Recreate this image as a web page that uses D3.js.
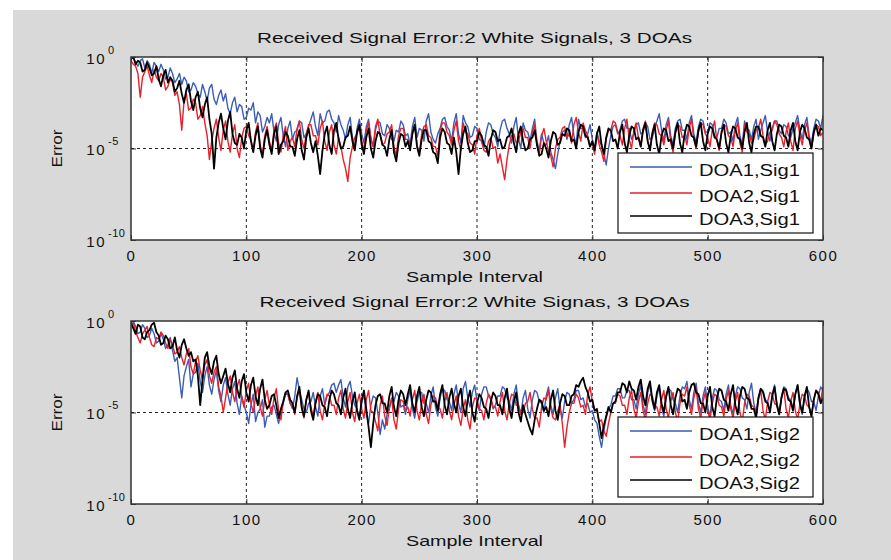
<!DOCTYPE html>
<html>
<head>
<meta charset="utf-8">
<script src="https://cdn.jsdelivr.net/npm/d3@7"></script>
<style>
  body { margin: 0; background: #fff; }
  svg { display: block; font-family: "Liberation Sans", Arial, sans-serif; }
</style>
</head>
<body>
<svg id="chart" width="891" height="560"></svg>
<script>
// x: every 2nd sample, y: log10(error)
const sampleStep = 2;
const xTicks = [0, 100, 200, 300, 400, 500, 600];
const yTickExps = [-10, -5, 0];
const titles = ["Received Signal Error:2 White Signals, 3 DOAs", "Received Signal Error:2 White Signas, 3 DOAs"];
const labelsTop = ["DOA1,Sig1", "DOA2,Sig1", "DOA3,Sig1"];
const labelsBottom = ["DOA1,Sig2", "DOA2,Sig2", "DOA3,Sig2"];

const doa1Sig1 = [
  -0.1,0.0,-0.3,-0.5,-0.2,-0.1,-0.6,-0.2,-0.4,-0.9,-0.3,-0.5,-0.8,-0.4,-0.7,-1.2,-1.1,-0.6,-0.9,-1.4,
  -1.2,-0.9,-1.5,-1.1,-1.3,-1.9,-1.8,-1.4,-1.6,-2.0,-2.2,-1.5,-1.9,-2.4,-1.7,-1.5,-2.3,-2.6,-2.1,-1.8,
  -2.4,-2.0,-2.8,-3.1,-2.5,-2.2,-3.0,-2.6,-2.7,-3.4,-3.3,-2.8,-2.9,-2.5,-3.6,-3.0,-3.2,-4.1,-3.8,-3.3,
  -3.6,-3.1,-4.1,-4.6,-3.7,-3.3,-4.3,-4.9,-3.9,-3.5,-4.5,-4.1,-4.0,-3.5,-3.6,-4.4,-4.2,-3.8,-3.4,-3.0,
  -3.8,-4.3,-3.1,-3.6,-3.5,-3.0,-2.9,-3.4,-3.6,-4.1,-3.2,-3.7,-4.0,-4.5,-3.7,-3.3,-4.4,-4.9,-3.9,-3.4,
  -4.2,-4.7,-3.8,-3.4,-4.5,-4.9,-4.0,-3.5,-3.6,-4.2,-4.3,-3.7,-3.9,-4.5,-4.6,-4.0,-4.1,-3.5,-3.7,-4.3,
  -4.2,-4.8,-3.8,-3.3,-4.4,-3.9,-4.0,-4.6,-3.5,-3.1,-4.1,-4.5,-4.7,-4.2,-3.9,-3.4,-3.3,-3.8,-4.0,-4.6,
  -3.6,-3.1,-4.2,-4.7,-3.2,-3.6,-3.8,-4.4,-4.3,-3.8,-3.9,-4.5,-4.6,-5.0,-4.1,-3.6,-3.7,-4.2,-4.4,-4.9,
  -4.0,-3.5,-3.4,-3.9,-4.2,-4.7,-3.8,-3.3,-4.5,-5.0,-3.6,-4.0,-4.1,-4.6,-3.9,-3.4,-4.6,-5.1,-4.2,-4.7,
  -4.8,-4.3,-5.2,-5.6,-6.1,-5.3,-4.6,-4.1,-4.0,-4.5,-3.7,-3.3,-4.3,-4.8,-3.4,-3.9,-3.9,-4.4,-4.2,-3.7,
  -4.5,-5.0,-4.1,-4.6,-4.8,-5.3,-5.9,-5.0,-4.3,-3.8,-3.7,-4.2,-4.0,-3.5,-3.4,-3.9,-3.9,-4.5,-4.2,-3.7,
  -3.6,-4.2,-4.1,-3.6,-3.8,-4.5,-4.4,-3.9,-3.5,-3.1,-4.0,-4.6,-3.7,-3.3,-4.3,-4.8,-3.9,-3.5,-3.4,-4.0,
  -4.0,-4.5,-3.6,-3.2,-4.2,-4.7,-3.8,-3.4,-3.5,-4.1,-4.1,-3.6,-3.7,-4.3,-4.4,-3.9,-3.9,-3.4,-3.6,-4.2,
  -4.1,-4.6,-3.7,-3.3,-4.3,-4.8,-3.5,-3.9,-4.0,-4.5,-3.8,-3.4,-4.5,-4.0,-3.6,-3.2,-4.1,-4.6,-3.9,-3.5,
  -3.5,-4.0,-4.2,-3.7,-3.8,-4.3,-4.4,-3.9,-3.6,-3.2,-4.0,-4.5,-3.7,-3.3,-4.3,-4.7,-3.9,-3.4,-3.5,-3.9,-3.2
];
const doa2Sig1 = [
  -0.2,-0.4,-0.5,-0.9,-2.2,-1.1,-0.8,-0.5,-1.0,-1.4,-0.7,-1.1,-1.3,-0.9,-1.1,-1.8,-1.6,-1.2,-1.4,-2.1,
  -1.9,-2.6,-4.0,-2.4,-2.0,-2.9,-2.8,-2.3,-2.5,-3.4,-3.2,-2.7,-3.6,-4.3,-5.6,-4.6,-3.9,-3.4,-4.4,-5.1,
  -4.0,-3.5,-4.6,-5.2,-4.2,-3.7,-5.0,-5.5,-4.4,-3.9,-3.8,-4.3,-4.5,-5.1,-4.1,-3.6,-4.8,-5.3,-4.3,-3.8,
  -4.6,-5.1,-4.0,-3.6,-4.7,-5.2,-4.3,-3.8,-5.1,-4.6,-4.4,-4.9,-3.9,-3.5,-4.5,-5.0,-4.2,-3.7,-3.7,-4.3,
  -4.3,-4.8,-3.9,-3.5,-4.6,-5.1,-4.1,-3.7,-4.8,-5.3,-4.4,-4.9,-5.6,-6.1,-6.8,-5.5,-4.9,-4.4,-4.2,-3.8,
  -4.6,-5.1,-4.0,-3.6,-4.4,-4.9,-3.8,-3.4,-4.3,-4.8,-4.7,-4.2,-4.1,-3.7,-4.9,-5.4,-4.3,-3.9,-3.9,-4.5,
  -4.5,-5.0,-4.1,-3.7,-4.8,-5.3,-4.2,-3.8,-3.7,-4.3,-4.4,-4.9,-4.9,-5.4,-4.0,-3.6,-3.6,-4.1,-4.3,-4.8,
  -4.0,-3.5,-4.6,-5.1,-3.6,-4.1,-4.2,-4.7,-4.8,-5.3,-4.3,-3.9,-4.6,-5.1,-5.2,-4.6,-4.4,-5.0,-4.9,-5.8,
  -5.3,-6.0,-6.7,-5.6,-4.8,-4.3,-4.2,-4.7,-4.6,-4.1,-3.9,-4.4,-4.4,-5.0,-4.1,-3.7,-4.8,-5.3,-4.3,-3.9,
  -4.6,-5.1,-5.4,-6.0,-5.0,-4.5,-4.4,-3.9,-3.8,-4.4,-4.2,-4.7,-3.7,-3.3,-4.1,-4.6,-3.6,-4.0,-4.3,-4.9,
  -4.7,-5.3,-4.2,-4.8,-5.2,-5.7,-4.5,-4.0,-4.0,-3.5,-3.6,-4.1,-4.3,-4.8,-3.9,-3.4,-4.5,-5.0,-4.0,-3.6,
  -4.4,-4.9,-3.9,-3.5,-4.6,-5.1,-4.1,-3.6,-3.7,-4.2,-4.3,-4.8,-4.0,-3.5,-4.7,-5.2,-4.2,-3.7,-3.8,-4.4,
  -4.3,-4.8,-3.9,-3.4,-4.5,-5.0,-4.1,-3.6,-3.7,-4.2,-4.4,-4.9,-4.0,-3.5,-4.6,-5.1,-4.2,-3.7,-3.8,-4.3,
  -4.4,-4.9,-4.0,-3.6,-4.7,-5.2,-3.7,-4.1,-4.2,-4.7,-4.5,-4.0,-3.9,-3.4,-4.3,-4.8,-4.6,-4.1,-4.0,-3.5,
  -3.7,-4.2,-4.4,-4.9,-4.1,-3.6,-4.6,-5.1,-3.9,-3.5,-4.3,-4.8,-4.0,-3.6,-4.5,-5.0,-4.2,-3.7,-3.8,-4.3,-4.1
];
const doa3Sig1 = [
  -0.1,0.0,-0.4,-0.2,-0.3,-0.8,-0.7,-0.3,-0.6,-1.0,-0.9,-0.5,-1.2,-1.6,-1.0,-0.7,-1.4,-1.1,-1.3,-1.9,
  -1.7,-1.3,-2.0,-2.5,-1.8,-1.5,-2.4,-2.9,-2.2,-1.9,-2.8,-3.3,-2.6,-2.2,-3.4,-4.2,-6.1,-4.4,-3.6,-3.1,
  -3.9,-4.5,-3.5,-3.0,-4.2,-4.7,-4.8,-4.2,-4.4,-5.0,-4.0,-3.6,-4.6,-5.2,-4.3,-3.8,-5.0,-5.5,-4.5,-4.0,
  -4.8,-5.3,-4.2,-3.8,-5.3,-4.8,-4.6,-4.1,-4.3,-4.9,-4.9,-5.4,-4.5,-4.0,-5.1,-5.6,-4.4,-3.9,-4.7,-5.2,
  -4.6,-5.4,-6.4,-5.1,-4.2,-3.8,-4.8,-5.3,-4.0,-3.6,-4.5,-5.0,-4.9,-4.4,-4.3,-3.8,-4.6,-5.1,-4.1,-3.7,
  -4.8,-5.3,-4.4,-3.9,-5.0,-5.5,-4.6,-4.1,-4.2,-4.8,-4.9,-5.4,-4.5,-4.0,-5.2,-5.7,-4.7,-4.2,-4.3,-4.9,
  -4.6,-5.1,-4.2,-3.7,-4.9,-5.4,-4.5,-4.0,-4.0,-4.6,-4.7,-5.2,-5.3,-5.8,-4.4,-3.9,-4.1,-4.7,-4.8,-5.3,
  -4.4,-5.2,-6.4,-5.0,-4.2,-3.8,-4.7,-5.2,-5.1,-4.6,-4.6,-4.1,-4.3,-4.8,-4.9,-5.4,-4.5,-4.0,-4.1,-4.6,
  -4.5,-5.0,-4.9,-4.4,-4.3,-3.9,-4.7,-5.2,-4.2,-3.8,-4.6,-5.1,-5.0,-4.5,-4.4,-4.0,-4.8,-5.4,-5.3,-4.7,
  -5.0,-5.5,-4.6,-4.1,-4.2,-4.8,-4.7,-4.2,-4.3,-3.9,-4.0,-4.6,-4.5,-5.0,-4.1,-3.7,-3.8,-4.3,-4.4,-4.9,
  -4.6,-5.1,-4.2,-3.8,-4.8,-5.3,-4.4,-3.9,-4.0,-4.6,-4.5,-5.0,-4.1,-3.7,-4.7,-5.2,-4.3,-3.8,-3.9,-4.5,
  -4.4,-4.9,-4.0,-3.6,-4.6,-5.1,-4.2,-3.7,-4.8,-5.3,-4.3,-3.9,-4.0,-4.6,-4.5,-5.0,-4.1,-3.6,-4.7,-5.2,
  -4.2,-3.7,-3.8,-4.3,-4.4,-4.9,-4.0,-3.6,-4.6,-5.1,-4.2,-3.8,-3.9,-4.4,-4.5,-5.0,-4.1,-3.7,-4.7,-5.2,
  -4.3,-3.8,-3.9,-4.4,-4.5,-5.0,-4.1,-3.6,-4.7,-5.2,-4.2,-3.8,-3.8,-4.3,-4.4,-4.9,-4.0,-3.6,-4.6,-5.1,
  -4.2,-3.7,-3.8,-4.3,-4.4,-4.9,-4.0,-3.6,-4.6,-5.1,-4.1,-3.7,-3.9,-4.4,-4.5,-5.0,-4.1,-3.7,-4.3,-3.9,-4.0
];
const doa1Sig2 = [
  -0.1,0.0,-0.3,-0.7,-0.6,-0.2,-0.4,-0.9,-0.8,-0.4,-0.7,-1.2,-1.1,-0.7,-1.0,-1.5,-1.3,-0.9,-1.6,-2.2,
  -2.0,-3.1,-4.2,-3.0,-2.5,-2.1,-3.6,-2.9,-2.8,-2.3,-3.3,-3.9,-3.0,-2.5,-3.5,-4.0,-3.2,-2.7,-3.8,-4.4,
  -3.5,-3.1,-4.0,-4.6,-3.7,-3.3,-4.5,-5.1,-4.1,-4.6,-5.0,-5.6,-4.6,-4.0,-5.5,-5.0,-4.8,-4.3,-5.8,-5.2,
  -5.2,-4.7,-4.6,-5.1,-5.6,-5.0,-4.5,-4.0,-4.0,-4.5,-4.8,-4.1,-3.1,-3.8,-4.3,-4.8,-5.0,-4.5,-4.4,-3.9,
  -4.7,-5.2,-4.1,-3.7,-4.6,-4.1,-3.9,-3.5,-3.4,-3.9,-3.5,-3.2,-4.2,-4.7,-3.6,-3.3,-4.1,-4.6,-4.8,-5.3,
  -4.5,-4.0,-5.1,-5.6,-4.6,-4.1,-4.2,-5.0,-6.2,-5.4,-5.9,-5.1,-4.8,-4.3,-4.4,-3.9,-4.1,-4.7,-4.6,-5.1,
  -4.3,-3.8,-4.8,-5.3,-4.4,-3.9,-3.9,-4.5,-4.5,-5.0,-4.1,-3.6,-4.7,-5.2,-4.2,-3.7,-3.8,-4.3,-4.4,-4.9,
  -4.0,-3.5,-4.5,-5.0,-3.7,-3.3,-4.2,-4.7,-3.9,-3.5,-4.4,-4.9,-4.0,-3.6,-3.6,-4.1,-4.3,-4.8,-4.6,-4.1,
  -4.1,-3.6,-3.7,-4.2,-4.4,-4.9,-4.0,-3.5,-4.6,-5.1,-4.2,-3.8,-4.8,-5.3,-4.3,-3.8,-3.9,-4.4,-4.5,-5.0,
  -4.1,-3.6,-4.6,-5.1,-4.2,-3.7,-4.8,-5.3,-4.4,-3.9,-4.0,-4.5,-4.3,-3.8,-3.8,-4.3,-4.2,-4.7,-4.5,-5.0,
  -4.9,-5.4,-5.6,-6.3,-6.9,-6.0,-5.3,-4.8,-4.6,-4.1,-4.1,-3.7,-3.7,-4.2,-4.2,-3.8,-3.8,-4.3,-4.3,-4.8,
  -4.0,-3.5,-4.6,-5.1,-3.9,-3.5,-4.4,-4.9,-4.1,-3.6,-4.7,-5.2,-4.2,-3.7,-3.8,-4.3,-4.5,-5.0,-4.1,-3.6,
  -3.7,-3.3,-4.3,-4.8,-3.9,-3.4,-4.5,-5.0,-4.1,-3.6,-4.7,-5.2,-4.2,-3.7,-3.8,-4.3,-4.4,-4.9,-4.0,-3.5,
  -4.6,-5.1,-4.1,-3.6,-3.7,-4.2,-4.3,-4.8,-3.9,-3.4,-4.5,-5.0,-4.2,-3.7,-3.8,-4.3,-4.4,-4.9,-4.0,-3.5,
  -4.5,-5.0,-4.1,-3.6,-3.7,-4.2,-4.3,-4.8,-4.0,-3.5,-4.6,-5.1,-4.2,-3.7,-3.9,-4.4,-4.4,-4.9,-4.1,-3.6,-3.8
];
const doa2Sig2 = [
  -0.2,-0.1,-0.6,-0.9,-1.2,-0.7,-0.5,-0.3,-0.9,-1.3,-1.4,-0.9,-1.0,-0.6,-0.8,-1.2,-1.5,-1.0,-1.3,-1.8,
  -1.7,-1.4,-2.0,-2.4,-1.8,-1.5,-2.5,-2.9,-2.2,-1.9,-2.7,-3.2,-2.4,-2.1,-3.0,-3.4,-2.8,-2.5,-3.6,-4.1,
  -5.0,-4.2,-3.4,-3.0,-3.9,-4.4,-3.6,-3.2,-4.2,-4.7,-3.8,-3.4,-4.5,-5.0,-4.1,-3.6,-4.7,-5.2,-4.3,-3.8,
  -4.6,-5.1,-4.2,-3.7,-4.9,-5.4,-4.4,-3.9,-4.0,-4.5,-4.6,-5.1,-4.2,-3.8,-4.8,-5.3,-4.3,-3.9,-4.7,-5.2,
  -4.4,-3.9,-4.9,-5.4,-4.5,-4.0,-4.1,-4.6,-4.6,-5.1,-4.2,-3.8,-4.8,-5.3,-4.4,-3.9,-5.0,-5.5,-4.5,-4.0,
  -4.8,-5.3,-4.3,-3.8,-4.9,-5.0,-5.5,-6.0,-4.6,-4.1,-5.2,-5.7,-4.7,-4.2,-5.4,-5.9,-4.8,-4.3,-4.4,-4.9,
  -4.7,-5.2,-4.3,-3.8,-4.9,-5.4,-4.5,-4.0,-5.1,-5.6,-4.6,-4.1,-4.2,-4.7,-4.8,-5.3,-4.4,-3.9,-4.9,-5.4,
  -4.6,-4.1,-5.2,-5.7,-4.8,-4.3,-5.4,-5.9,-4.7,-4.2,-4.3,-4.8,-4.9,-5.4,-4.5,-4.0,-4.2,-4.7,-4.7,-5.2,
  -4.4,-3.9,-4.9,-5.4,-4.5,-4.0,-4.1,-4.6,-4.6,-5.1,-5.0,-4.5,-4.4,-3.9,-4.8,-5.3,-5.3,-5.8,-4.7,-4.2,
  -4.3,-3.8,-4.8,-5.3,-5.4,-4.9,-4.6,-5.6,-6.9,-5.8,-5.0,-4.5,-4.5,-4.0,-4.2,-4.7,-4.6,-5.1,-4.0,-3.6,
  -4.4,-4.9,-4.9,-5.5,-5.4,-6.0,-6.3,-5.6,-5.0,-4.5,-4.5,-4.0,-4.1,-4.6,-4.6,-5.1,-4.2,-3.8,-4.8,-5.3,
  -4.4,-3.9,-4.9,-5.4,-4.5,-4.0,-4.1,-4.6,-4.7,-5.2,-4.3,-3.8,-4.8,-5.3,-4.4,-3.9,-5.0,-5.5,-4.5,-4.0,
  -4.1,-3.6,-4.6,-5.1,-4.2,-3.7,-4.8,-5.3,-4.4,-3.9,-4.9,-5.4,-4.5,-4.0,-4.1,-4.6,-4.7,-5.2,-4.3,-3.8,
  -4.8,-5.3,-4.4,-3.9,-5.0,-5.5,-4.5,-4.0,-4.1,-4.6,-4.7,-5.2,-4.3,-3.8,-4.9,-5.4,-4.4,-3.9,-4.0,-4.5,
  -4.6,-5.1,-4.2,-3.7,-4.8,-5.3,-4.4,-3.9,-4.9,-5.4,-4.5,-4.0,-4.1,-4.6,-4.7,-5.2,-4.3,-3.8,-3.9,-4.4,-3.6
];
const doa3Sig2 = [
  -0.1,-0.4,-0.7,-0.2,-0.3,-0.9,-1.0,-0.6,-0.5,-0.2,-0.1,-0.6,-0.8,-1.3,-1.2,-0.8,-1.0,-1.5,-1.4,-0.9,
  -1.6,-2.0,-1.3,-1.0,-1.5,-1.9,-1.7,-2.2,-2.1,-3.0,-4.6,-3.2,-2.0,-1.7,-2.5,-2.9,-2.2,-1.9,-2.9,-3.4,
  -3.0,-2.6,-3.4,-3.9,-3.1,-2.7,-3.7,-4.2,-3.3,-2.9,-3.9,-4.4,-3.5,-3.1,-4.1,-4.6,-3.7,-3.2,-4.3,-4.8,
  -4.6,-4.1,-4.0,-4.6,-5.3,-4.8,-4.4,-3.9,-3.8,-4.3,-4.5,-5.0,-4.1,-3.6,-4.7,-5.2,-4.3,-3.8,-4.9,-5.4,
  -4.5,-4.0,-4.1,-4.6,-4.7,-5.2,-4.3,-3.8,-4.0,-4.5,-4.6,-5.1,-4.2,-3.7,-4.8,-5.3,-4.4,-3.9,-4.9,-5.4,
  -4.3,-3.8,-4.8,-5.8,-6.9,-5.6,-4.6,-4.1,-4.0,-4.5,-4.5,-5.0,-4.1,-3.6,-4.7,-5.2,-4.3,-3.8,-4.0,-4.6,
  -4.0,-3.5,-4.5,-5.0,-4.1,-3.6,-4.7,-5.2,-4.3,-3.8,-3.9,-4.4,-4.4,-4.9,-4.0,-3.5,-4.6,-5.1,-4.2,-3.7,
  -4.5,-5.0,-4.1,-3.7,-4.7,-5.2,-4.3,-3.8,-5.0,-5.5,-4.5,-4.0,-4.2,-4.7,-4.8,-5.3,-4.4,-3.9,-4.1,-4.6,
  -4.6,-5.1,-4.2,-3.7,-4.8,-5.3,-4.4,-3.9,-5.0,-5.5,-4.6,-5.1,-5.5,-5.9,-6.2,-5.4,-4.8,-4.3,-4.4,-4.9,
  -4.7,-5.2,-4.3,-3.8,-4.9,-5.4,-4.5,-4.0,-4.1,-4.6,-4.6,-4.1,-4.0,-3.5,-3.6,-3.3,-3.1,-3.6,-3.9,-4.4,
  -4.3,-4.9,-4.8,-5.6,-6.4,-5.7,-5.2,-4.7,-5.0,-4.5,-4.4,-3.9,-3.9,-3.4,-3.5,-3.9,-3.3,-3.7,-3.8,-4.3,
  -3.6,-3.2,-4.1,-4.6,-3.7,-3.3,-4.3,-4.8,-3.9,-3.5,-4.5,-5.0,-4.1,-3.6,-4.6,-5.1,-4.2,-3.7,-3.8,-4.4,
  -4.3,-4.8,-3.9,-3.5,-3.4,-3.9,-4.0,-4.5,-4.5,-5.0,-4.1,-3.6,-4.7,-5.2,-4.2,-3.7,-3.8,-4.3,-4.4,-4.9,
  -4.0,-3.5,-4.6,-5.1,-4.1,-3.6,-3.7,-4.2,-4.3,-4.8,-4.8,-5.3,-4.2,-3.7,-3.9,-4.4,-4.5,-5.0,-4.1,-3.6,
  -4.6,-5.1,-4.2,-3.7,-3.8,-4.3,-4.4,-4.9,-4.0,-3.5,-4.5,-5.0,-4.1,-3.6,-4.7,-5.2,-4.3,-3.8,-4.0,-4.5,-4.2
];

const colors = ["#3b5db5", "#ea1f2b", "#000000"];
const samples = d3.range(0, 601, sampleStep);

const panels = [
  { top: 57, bottom: 240, title: titles[0], labels: labelsTop, series: [doa1Sig1, doa2Sig1, doa3Sig1] },
  { top: 321, bottom: 504, title: titles[1], labels: labelsBottom, series: [doa1Sig2, doa2Sig2, doa3Sig2] }
];
const left = 131, right = 823;

const svg = d3.select("#chart");
svg.append("rect").attr("x", 13).attr("y", 10).attr("width", 878).attr("height", 550).attr("fill", "#d9d9d9");

const x = d3.scaleLinear().domain([0, 600]).range([left, right]);

panels.forEach((p, pi) => {
  const y = d3.scaleLog().domain([1e-10, 1]).range([p.bottom, p.top]);
  const g = svg.append("g");

  g.append("rect").attr("x", left).attr("y", p.top)
    .attr("width", right - left).attr("height", p.bottom - p.top).attr("fill", "#fff");

  // grid
  g.selectAll(".vgrid").data(xTicks.slice(1, -1)).enter().append("line")
    .attr("x1", d => x(d)).attr("x2", d => x(d))
    .attr("y1", p.top).attr("y2", p.bottom)
    .attr("stroke", "#222").attr("stroke-width", 1).attr("stroke-dasharray", "3,3");
  g.selectAll(".hgrid").data(yTickExps.slice(1, -1)).enter().append("line")
    .attr("x1", left).attr("x2", right)
    .attr("y1", d => y(10 ** d)).attr("y2", d => y(10 ** d))
    .attr("stroke", "#222").attr("stroke-width", 1).attr("stroke-dasharray", "3,3");

  // lines
  const clipId = "clip" + pi;
  svg.append("clipPath").attr("id", clipId).append("rect")
    .attr("x", left).attr("y", p.top).attr("width", right - left).attr("height", p.bottom - p.top);
  const line = d3.line().x((d, i) => x(samples[i])).y(d => y(10 ** d));
  p.series.forEach((s, si) => {
    g.append("path").datum(s).attr("clip-path", "url(#" + clipId + ")")
      .attr("d", line).attr("fill", "none")
      .attr("stroke", colors[si]).attr("stroke-width", si === 2 ? 1.8 : 1.4)
      .attr("stroke-linejoin", "round");
  });

  // axes, ticks pointing inward
  const styleAxis = sel => {
    sel.select(".domain").remove();
    sel.selectAll(".tick line").attr("stroke", "#333");
  };
  g.append("g").attr("transform", "translate(0," + p.bottom + ")")
    .call(d3.axisBottom(x).tickValues(xTicks).tickSizeInner(-5).tickSizeOuter(0).tickPadding(10))
    .call(styleAxis)
    .call(a => a.selectAll("text").attr("font-size", 15).attr("letter-spacing", 1.5)
      .attr("fill", "#111").attr("font-family", "Liberation Sans, Arial, sans-serif"));
  g.append("g").attr("transform", "translate(0," + p.top + ")")
    .call(d3.axisTop(x).tickValues(xTicks).tickSizeInner(-5).tickSizeOuter(0).tickFormat(""))
    .call(styleAxis);
  g.append("g").attr("transform", "translate(" + left + ",0)")
    .call(d3.axisLeft(y).tickValues(yTickExps.map(e => 10 ** e)).tickSizeInner(-5).tickSizeOuter(0).tickFormat(""))
    .call(styleAxis);
  g.append("g").attr("transform", "translate(" + right + ",0)")
    .call(d3.axisRight(y).tickValues(yTickExps.map(e => 10 ** e)).tickSizeInner(-5).tickSizeOuter(0).tickFormat(""))
    .call(styleAxis);

  // y tick labels 10^n
  yTickExps.forEach(e => {
    const ty = y(10 ** e);
    g.append("text").attr("x", 106).attr("y", ty + 6.5).attr("text-anchor", "end")
      .attr("font-size", 15).attr("letter-spacing", 1.5).attr("fill", "#111").text("10");
    g.append("text").attr("x", 108).attr("y", ty - 3.5)
      .attr("font-size", 11).attr("letter-spacing", 0.5).attr("fill", "#111").text(e);
  });

  // border
  g.append("rect").attr("x", left).attr("y", p.top)
    .attr("width", right - left).attr("height", p.bottom - p.top)
    .attr("fill", "none").attr("stroke", "#333").attr("stroke-width", 1.5);

  // title and labels
  g.append("text").attr("x", 474.5).attr("y", p.top - 14).attr("text-anchor", "middle")
    .attr("font-size", 15).attr("textLength", pi === 0 ? 435 : 430).attr("lengthAdjust", "spacingAndGlyphs")
    .attr("fill", "#111").text(p.title);
  g.append("text").attr("x", 474.5).attr("y", p.bottom + 42).attr("text-anchor", "middle")
    .attr("font-size", 15).attr("textLength", 137).attr("lengthAdjust", "spacingAndGlyphs")
    .attr("fill", "#111").text("Sample Interval");
  g.append("text").attr("transform", "translate(62," + (p.top + p.bottom) / 2 + ") rotate(-90)")
    .attr("text-anchor", "middle").attr("font-size", 14).attr("textLength", 38)
    .attr("lengthAdjust", "spacingAndGlyphs").attr("fill", "#111").text("Error");

  // legend
  const lg = g.append("g").attr("transform", "translate(618," + (p.bottom - 87) + ")");
  lg.append("rect").attr("width", 195).attr("height", 80).attr("fill", "#fff")
    .attr("stroke", "#111").attr("stroke-width", 1.2);
  const rowY = [14, 40, 63];
  p.labels.forEach((lab, li) => {
    lg.append("line").attr("x1", 12).attr("x2", 74).attr("y1", rowY[li]).attr("y2", rowY[li])
      .attr("stroke", colors[li]).attr("stroke-width", 1.5);
    lg.append("text").attr("x", 81).attr("y", rowY[li] + 8.5).attr("font-size", 16)
      .attr("textLength", 101).attr("lengthAdjust", "spacingAndGlyphs").attr("fill", "#111").text(lab);
  });
});
</script>
</body>
</html>
